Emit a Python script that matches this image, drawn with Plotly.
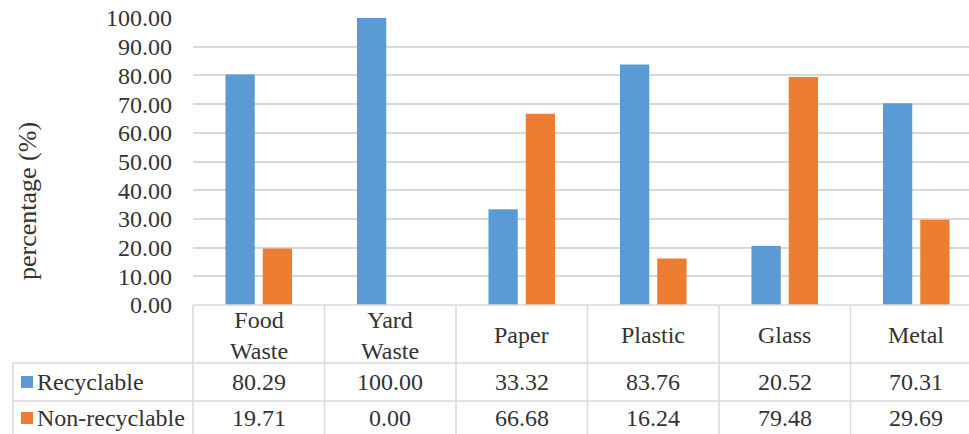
import plotly.graph_objects as go

# Waste composition: recyclable vs non-recyclable share per category
categories = ["Food<br>Waste", "Yard<br>Waste", "Paper", "Plastic", "Glass", "Metal"]
recyclable = [80.29, 100.00, 33.32, 83.76, 20.52, 70.31]
non_recyclable = [19.71, 0.00, 66.68, 16.24, 79.48, 29.69]
series_names = ["Recyclable", "Non-recyclable"]
y_ticks = [0, 10, 20, 30, 40, 50, 60, 70, 80, 90, 100]

BLUE = "#5B9BD5"
ORANGE = "#ED7D31"
GRID = "#D9D9D9"
TEXT = "#333333"
FONT = "Times New Roman, Liberation Serif, serif"
FS = 24

W, H = 969, 434
ML, MR, MT, MB = 193, 0, 18, 129
PW, PH = W - ML - MR, H - MT - MB


def px_x(x):
    return (x - ML) / PW


def px_y(y):
    return (H - MB - y) / PH


idx = list(range(len(categories)))

fig = go.Figure()
fig.add_trace(go.Bar(x=idx, y=recyclable, name=series_names[0],
                     marker=dict(color=BLUE, line=dict(width=0))))
fig.add_trace(go.Bar(x=idx, y=non_recyclable, name=series_names[1],
                     marker=dict(color=ORANGE, line=dict(width=0))))

# Data table beneath the plot
shapes = []
line = dict(color=GRID, width=1.5)
bottom = px_y(H + 10)
# top border (axis line) and row separators
shapes.append(dict(type="line", xref="paper", yref="paper", x0=0, x1=1.02,
                   y0=0, y1=0, line=line, layer="above"))
for ry in (363, 401):
    shapes.append(dict(type="line", xref="paper", yref="paper",
                       x0=px_x(13), x1=1.02, y0=px_y(ry), y1=px_y(ry), line=line))
# column separators
shapes.append(dict(type="line", xref="paper", yref="paper", x0=0, x1=0,
                   y0=0, y1=bottom, line=line))
shapes.append(dict(type="line", xref="paper", yref="paper", x0=px_x(13), x1=px_x(13),
                   y0=px_y(363), y1=bottom, line=line))
for k in range(len(categories) - 1):
    shapes.append(dict(type="line", xref="x", yref="paper", x0=k + 0.5, x1=k + 0.5,
                       y0=0, y1=bottom, line=line))
# legend keys inside the table
for color, cy in ((BLUE, 382), (ORANGE, 418)):
    shapes.append(dict(type="rect", xref="paper", yref="paper",
                       x0=px_x(21), x1=px_x(33), y0=px_y(cy - 6), y1=px_y(cy + 6),
                       fillcolor=color, line=dict(width=0)))

annotations = []
for k, cat in enumerate(categories):
    annotations.append(dict(x=k, y=px_y(335), xref="x", yref="paper", text=cat,
                            showarrow=False, xanchor="center", yanchor="middle",
                            font=dict(family=FONT, size=FS, color=TEXT)))
for series, cy in ((recyclable, 382), (non_recyclable, 418)):
    for k, v in enumerate(series):
        annotations.append(dict(x=k, y=px_y(cy), xref="x", yref="paper",
                                text=f"{v:.2f}", showarrow=False,
                                xanchor="center", yanchor="middle",
                                font=dict(family=FONT, size=FS, color=TEXT)))
for name, cy in zip(series_names, (382, 418)):
    annotations.append(dict(x=px_x(35), y=px_y(cy), xref="paper", yref="paper",
                            text=name, showarrow=False, xanchor="left", yanchor="middle",
                            font=dict(family=FONT, size=FS, color=TEXT)))
# y-axis title
annotations.append(dict(x=px_x(27), y=px_y(201), xref="paper", yref="paper",
                        text="percentage (%)", textangle=-90, showarrow=False,
                        xanchor="center", yanchor="middle",
                        font=dict(family=FONT, size=26, color=TEXT)))

fig.update_layout(
    width=W, height=H,
    margin=dict(l=ML, r=MR, t=MT, b=MB, pad=0),
    paper_bgcolor="white", plot_bgcolor="white",
    barmode="group", bargap=0.433, bargroupgap=0.214,
    showlegend=False,
    font=dict(family=FONT, size=FS, color=TEXT),
    xaxis=dict(range=[-0.5, 5.5 - 13 / 131.5], showticklabels=False,
               showgrid=False, zeroline=False, showline=False, fixedrange=True),
    yaxis=dict(range=[0, 100], tickvals=y_ticks, tickformat=".2f",
               showgrid=True, gridcolor=GRID, gridwidth=1.5, zeroline=False,
               showline=False, ticks="", ticklabelstandoff=20,
               tickfont=dict(family=FONT, size=FS, color=TEXT)),
    shapes=shapes,
    annotations=annotations,
)

fig.write_html("out.html")
